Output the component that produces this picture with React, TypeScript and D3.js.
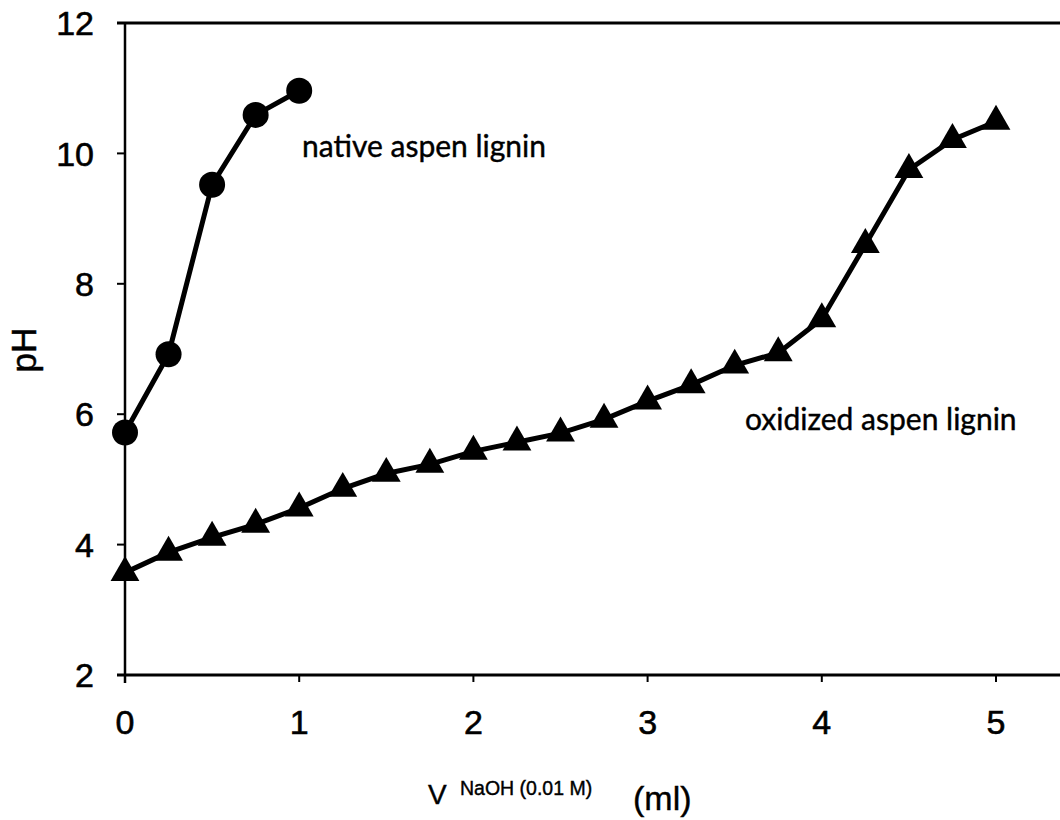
import React from "react";
import * as d3 from "d3";

const nativeX = [0, 0.25, 0.5, 0.75, 1.0];
const nativeY = [5.72, 6.92, 9.52, 10.59, 10.96];

const oxidX = [0, 0.25, 0.5, 0.75, 1.0, 1.25, 1.5, 1.75, 2.0, 2.25, 2.5, 2.75, 3.0, 3.25, 3.5, 3.75, 4.0, 4.25, 4.5, 4.75, 5.0];
const oxidY = [3.57, 3.88, 4.11, 4.31, 4.56, 4.86, 5.09, 5.23, 5.43, 5.57, 5.71, 5.92, 6.2, 6.45, 6.75, 6.94, 7.46, 8.6, 9.75, 10.21, 10.49];

const xTicks = [0, 1, 2, 3, 4, 5];
const yTicks = [2, 4, 6, 8, 10, 12];

const W = 1060;
const H = 820;

export default function App() {
  const x = d3.scaleLinear().domain([0, 5]).range([125, 996]);
  const y = d3.scaleLinear().domain([2, 12]).range([675, 23]);
  const line = d3
    .line<[number, number]>()
    .x((d) => x(d[0]))
    .y((d) => y(d[1]));
  const nat: [number, number][] = nativeX.map((v, i) => [v, nativeY[i]]);
  const ox: [number, number][] = oxidX.map((v, i) => [v, oxidY[i]]);
  const tri = d3.symbol().type(d3.symbolTriangle).size(360)();
  const font = "'Liberation Sans', Arial, sans-serif";
  const annFont = "Lato, 'Open Sans', sans-serif";

  return (
    <svg
      width={W}
      height={H}
      style={{ position: "absolute", left: 0, top: 0, background: "#fff" }}
    >
      <rect x={0} y={0} width={W} height={H} fill="#fff" />
      {/* frame */}
      <line x1={x(0) - 8} x2={W} y1={y(12)} y2={y(12)} stroke="#000" strokeWidth={3} />
      <line x1={x(0) - 8} x2={W} y1={y(2)} y2={y(2)} stroke="#000" strokeWidth={3} />
      <line x1={x(0)} x2={x(0)} y1={y(12)} y2={y(2) + 8} stroke="#000" strokeWidth={2.5} />
      {yTicks.map((t) => (
        <g key={"y" + t}>
          <line x1={x(0) - 8} x2={x(0)} y1={y(t)} y2={y(t)} stroke="#000" strokeWidth={2} />
          <text
            x={94}
            y={y(t)}
            dy="0.36em"
            textAnchor="end"
            fontFamily={font}
            fontSize={34}
            fill="#000"
            stroke="#000"
            strokeWidth={0.6}
          >
            {t}
          </text>
        </g>
      ))}
      {xTicks.map((t) => (
        <g key={"x" + t}>
          <line x1={x(t)} x2={x(t)} y1={y(2)} y2={y(2) + 7} stroke="#000" strokeWidth={2} />
          <text
            x={x(t)}
            y={734}
            textAnchor="middle"
            fontFamily={font}
            fontSize={34}
            fill="#000"
            stroke="#000"
            strokeWidth={0.6}
          >
            {t}
          </text>
        </g>
      ))}
      {/* axis titles */}
      <text
        transform={`translate(36, 350) rotate(-90)`}
        textAnchor="middle"
        fontFamily={font}
        fontSize={35}
        fill="#000"
        stroke="#000"
        strokeWidth={0.5}
      >
        pH
      </text>
      <text x={428} y={804} fontFamily={font} fill="#000" stroke="#000" strokeWidth={0.4}>
        <tspan fontSize={28}>V</tspan>
        <tspan x={460} fontSize={19.5} y={795}>NaOH (0.01 M)</tspan>
        <tspan x={633} fontSize={34} y={810}>(ml)</tspan>
      </text>
      {/* series */}
      <path d={line(nat) || ""} fill="none" stroke="#000" strokeWidth={5} />
      <path d={line(ox) || ""} fill="none" stroke="#000" strokeWidth={5} />
      {nat.map((d, i) => (
        <circle key={"c" + i} cx={x(d[0])} cy={y(d[1])} r={13} fill="#000" />
      ))}
      {ox.map((d, i) => (
        <path
          key={"t" + i}
          d={tri || ""}
          transform={`translate(${x(d[0])}, ${y(d[1])})`}
          fill="#000"
        />
      ))}
      {/* annotations */}
      <text x={302} y={157} fontFamily={annFont} fontSize={30} fill="#000" stroke="#000" strokeWidth={0.4}>
        native aspen lignin
      </text>
      <text x={745} y={430} fontFamily={annFont} fontSize={30} fill="#000" stroke="#000" strokeWidth={0.4}>
        oxidized aspen lignin
      </text>
    </svg>
  );
}
